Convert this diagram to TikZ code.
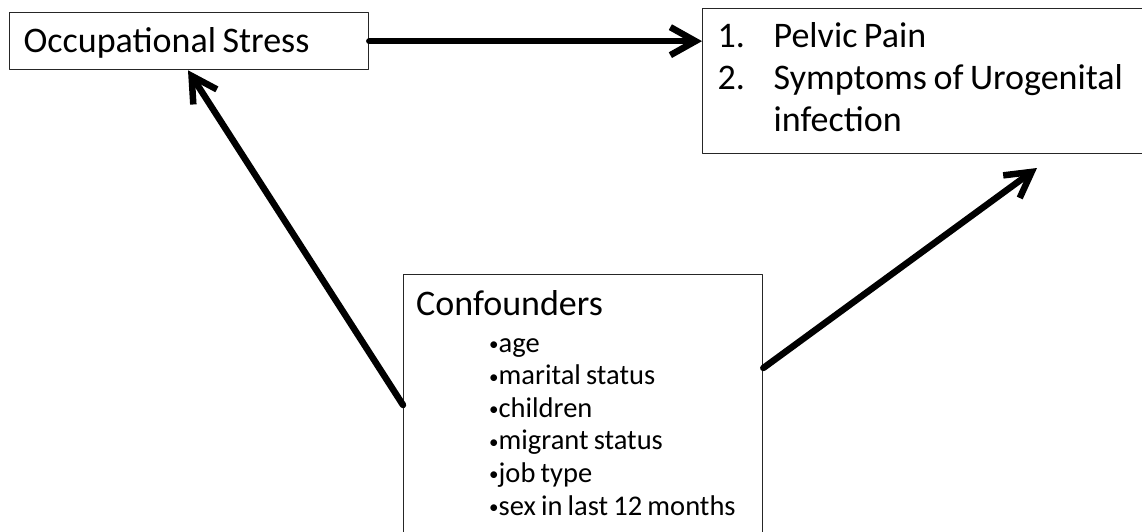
\documentclass[tikz,border=0pt]{standalone}
\usepackage{fontspec}
\setmainfont{Carlito}[WordSpace=0.8]
\usetikzlibrary{arrows.meta}
\newcommand{\bigtxt}{\fontsize{36}{42}\selectfont}
\newcommand{\listtxt}{\fontsize{28.5}{32.6}\selectfont}
\newcommand{\dotmark}{\raisebox{1.6pt}{\fontsize{19}{19}\selectfont•}}
\begin{document}
\begin{tikzpicture}[x=1pt, y=-1pt, line cap=round, line join=round, font=\bigtxt, >={Straight Barb[length=25pt, width=28pt]}]
	\tikzset{box/.style={draw=black!85, line width=1.3pt, rectangle, inner sep=0pt}}
	\tikzset{link/.style={->, line width=6.5pt}}
	\useasboundingbox (0,0) rectangle (1142,532);
	\clip (0,0) rectangle (1142,532);
	% boxes
	\node[box, anchor=north west, inner xsep=14pt, minimum height=57pt, text height=26pt, text depth=3pt] (occ) at (9,12) {\makebox[331pt][l]{Occupational Stress}};
	\node[box, anchor=north west, inner xsep=15pt, inner ysep=9.5pt] (out) at (702,8) {\begin{tabular}{@{}p{56pt}@{}p{390pt}@{}}1. & Pelvic Pain\\ 2. & Symptoms of Urogenital\\ & infection\end{tabular}};
	\node[box, anchor=north west, minimum width=359pt, minimum height=290pt] (conf) at (403,274) {};
	\node[anchor=base west, inner sep=0pt] (confhead) at (416,315) {Confounders};
	\foreach \txt [count=\i] in {age, marital status, children, migrant status, job type, sex in last 12 months}
		\node[anchor=base west, inner sep=0pt, font=\listtxt] (item\i) at (489,{352+32.6*(\i-1)}) {\dotmark\txt};
	% arrows
	\coordinate (tipR) at (1037,168);
	\draw[link] (occ.east) -- (occ.east -| out.west);
	\draw[link] ([yshift=-131pt]conf.north west) -- ([xshift=179pt]occ.south west);
	\draw[link] ([yshift=-94pt]conf.north east) -- (tipR);
\end{tikzpicture}
\end{document}
